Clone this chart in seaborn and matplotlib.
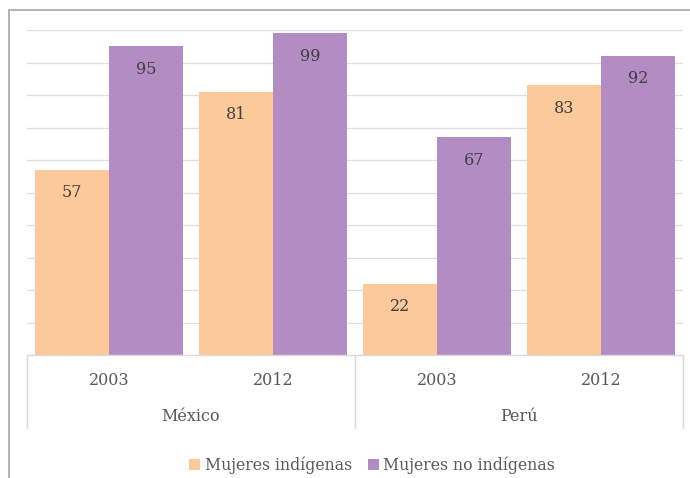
import matplotlib
matplotlib.use("Agg")
import matplotlib.pyplot as plt
import matplotlib.transforms as mtransforms
from matplotlib.lines import Line2D
import seaborn as sns
import pandas as pd

countries = ["México", "Perú"]
years = ["2003", "2012"]
series = ["Mujeres indígenas", "Mujeres no indígenas"]
indigenas = [57, 81, 22, 83]
no_indigenas = [95, 99, 67, 92]
colors = ["#FBC99A", "#B48CC4"]

cats = [f"{c} {y}" for c in countries for y in years]
df = pd.DataFrame({
    "cat": cats * 2,
    "serie": [series[0]] * 4 + [series[1]] * 4,
    "valor": indigenas + no_indigenas,
})

sns.set_theme(style="white")
plt.rcParams["font.family"] = ["DejaVu Serif"]

W, H = 690, 478
fig = plt.figure(figsize=(W / 100, H / 100), dpi=100)
ax = fig.add_axes([27 / W, (H - 355) / H, (683 - 27) / W, (355 - 30) / H])

sns.barplot(data=df, x="cat", y="valor", hue="serie", order=cats,
            hue_order=series, palette=colors, width=0.9, gap=0,
            saturation=1, ax=ax, legend=True, edgecolor="none")

ax.set_ylim(0, 100)
ax.set_xlim(-0.5, 3.5)
for v in range(10, 101, 10):
    ax.axhline(v, color="#DEDEDE", lw=0.9, zorder=0)
ax.set_axisbelow(True)
for s in ax.spines.values():
    s.set_visible(False)
ax.set_xticks([])
ax.set_yticks([])
ax.set_xlabel("")
ax.set_ylabel("")

# data labels
for cont in ax.containers:
    for bar in cont:
        h = bar.get_height()
        ax.annotate(f"{h:.0f}", (bar.get_x() + bar.get_width() / 2, h),
                    xytext=(0, -16.5), textcoords="offset points",
                    ha="center", va="center", fontsize=11.5, color="#404040")

# two-level category axis
trans = mtransforms.blended_transform_factory(ax.transData, ax.transAxes)
ax.plot([-0.5, 3.5], [0, 0], color="#D9D9D9", lw=1, transform=trans, clip_on=False)
for xv in [-0.5, 1.5, 3.5]:
    ax.plot([xv, xv], [0, -0.225], color="#D9D9D9", lw=1, transform=trans, clip_on=False)
for i, c in enumerate(cats):
    ax.text(i, -0.077, years[i % 2], transform=trans, ha="center", va="center",
            fontsize=11.5, color="#595959")
for j, c in enumerate(countries):
    ax.text(2 * j + 0.5, -0.19, c, transform=trans, ha="center", va="center",
            fontsize=11.5, color="#595959")

# legend
handles, labels = ax.get_legend_handles_labels()
ax.get_legend().remove()
fig.legend(handles, labels, loc="center", bbox_to_anchor=(372 / W, 13 / H),
           ncol=2, frameon=False, fontsize=11.3, handlelength=0.7,
           handleheight=0.7, handletextpad=0.3, columnspacing=1.0,
           labelcolor="#595959")

# chart frame (partially cropped)
fig.add_artist(Line2D([9 / W, 1], [1 - 10 / H, 1 - 10 / H], color="#A6A6A6", lw=1.2,
                      transform=fig.transFigure))
fig.add_artist(Line2D([9 / W, 9 / W], [0, 1 - 10 / H], color="#A6A6A6", lw=1.2,
                      transform=fig.transFigure))

fig.savefig("out.png", dpi=100)
